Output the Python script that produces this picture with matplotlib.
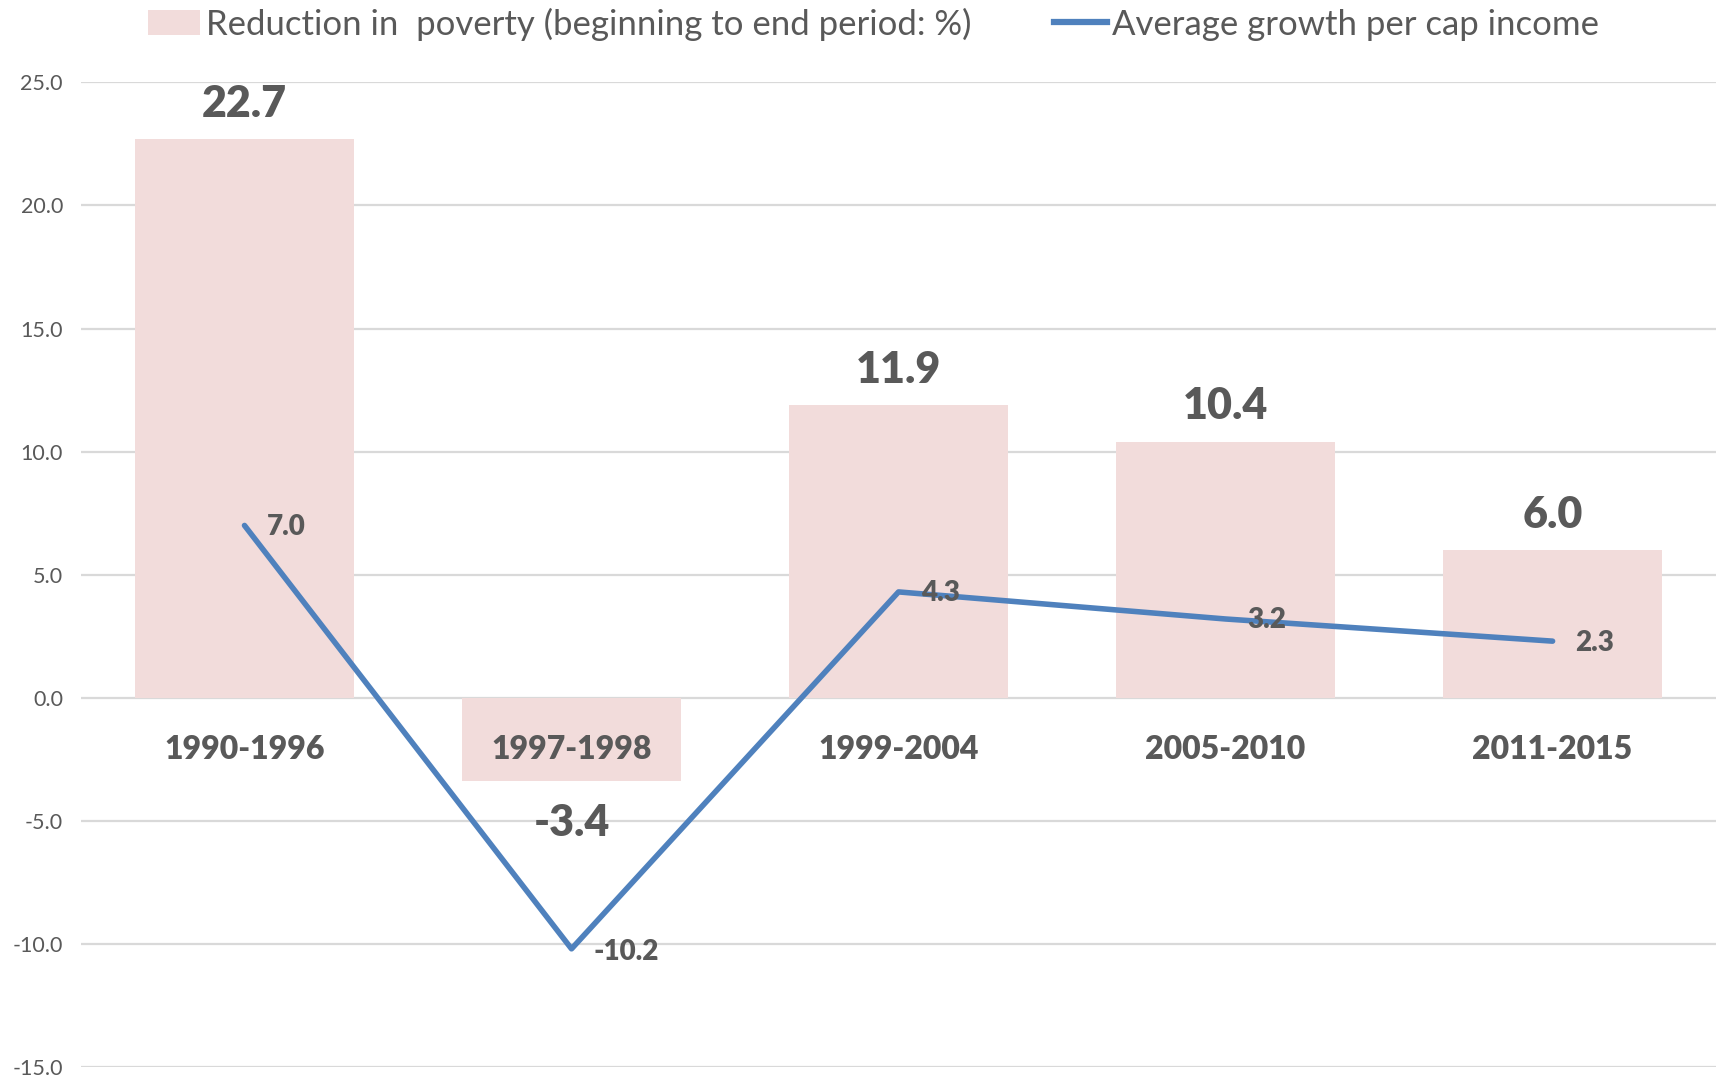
import matplotlib
matplotlib.use("Agg")
from matplotlib import pyplot as plt
from matplotlib.patches import Patch
from matplotlib.lines import Line2D
import numpy as np

periods = ["1990-1996", "1997-1998", "1999-2004", "2005-2010", "2011-2015"]
poverty_reduction = [22.7, -3.4, 11.9, 10.4, 6.0]
income_growth = [7.0, -10.2, 4.3, 3.2, 2.3]
yticks = [-15, -10, -5, 0, 5, 10, 15, 20, 25]

bar_color = "#F2DCDB"
line_color = "#4F81BD"
text_color = "#595959"
grid_color = "#D9D9D9"

plt.rcParams["font.family"] = ["Lato", "DejaVu Sans"]

fig = plt.figure(figsize=(17.23, 10.78), dpi=100)
ax = fig.add_axes([0.047, 0.0102, 0.949, 0.9134])

x = np.arange(len(periods))
ax.bar(x, poverty_reduction, width=0.67, color=bar_color, zorder=2)
ax.plot(x, income_growth, color=line_color, lw=4, zorder=3, solid_capstyle="round")

ax.set_xlim(-0.5, len(periods) - 0.5)
ax.set_ylim(-15, 25)
ax.set_yticks(yticks)
ax.set_yticklabels([f"{v:.1f}" for v in yticks], fontsize=15.5, color=text_color)
ax.set_xticks([])
ax.tick_params(axis="y", length=0, pad=13)
ax.yaxis.grid(True, color=grid_color, lw=1.6, zorder=0)
ax.set_axisbelow(True)
for s in ax.spines.values():
    s.set_visible(False)

# category labels sit inside the plot just below zero
for i, p in enumerate(periods):
    ax.text(i, -2.1, p, ha="center", va="center", fontsize=23,
            fontweight="heavy", color=text_color, zorder=4)

# bar value labels
for i, v in enumerate(poverty_reduction):
    if v >= 0:
        ax.annotate(f"{v:.1f}", (i, v), xytext=(0, 11), textcoords="offset points",
                    ha="center", va="bottom", fontsize=31, fontweight="heavy",
                    color=text_color, zorder=4)
    else:
        ax.text(i, -5.1, f"{v:.1f}", ha="center", va="center", fontsize=31,
                fontweight="heavy", color=text_color, zorder=4)

# line value labels
for i, v in enumerate(income_growth):
    dy = -2 if v < 0 else -1
    ax.annotate(f"{v:.1f}", (i, v), xytext=(16, dy), textcoords="offset points",
                ha="left", va="center", fontsize=20, fontweight="heavy",
                color=text_color, zorder=4)

handles = [Patch(facecolor=bar_color, edgecolor="none"),
           Line2D([0], [0], color=line_color, lw=4.5)]
labels = ["Reduction in  poverty (beginning to end period: %)",
          "Average growth per cap income"]
fig.legend(handles, labels, loc="upper center", bbox_to_anchor=(0.507, 1.022),
           ncol=2, frameon=False, fontsize=25, labelcolor=text_color,
           handlelength=1.5, handleheight=0.75, handletextpad=0.15,
           columnspacing=2.4)

fig.savefig("out.png", dpi=100)
